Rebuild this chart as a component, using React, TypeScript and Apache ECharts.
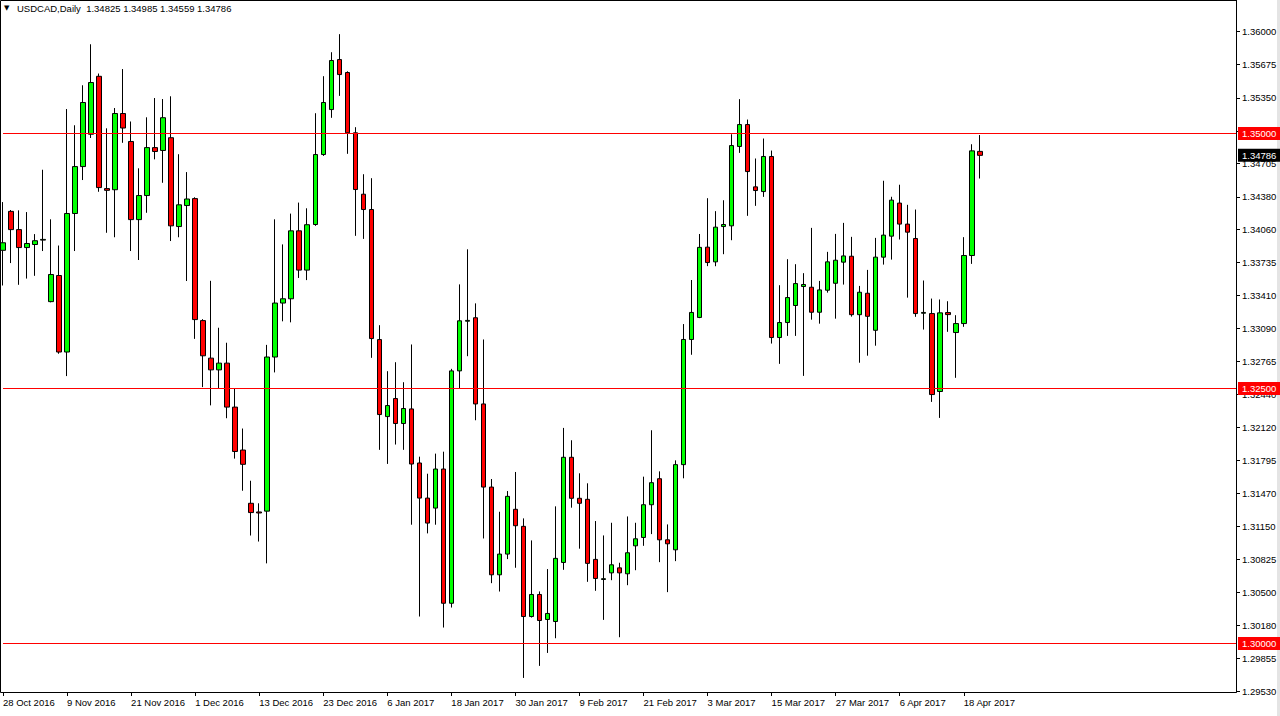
import React, { useEffect, useRef } from "react";
import * as echarts from "echarts";

const FONT = "'Liberation Sans', Arial, sans-serif";

const symbolName = "USDCAD,Daily";

const dates = [
  "28 Oct 2016", "31 Oct 2016", "1 Nov 2016", "2 Nov 2016", "3 Nov 2016", "4 Nov 2016", "7 Nov 2016", "8 Nov 2016",
  "9 Nov 2016", "10 Nov 2016", "11 Nov 2016", "14 Nov 2016", "15 Nov 2016", "16 Nov 2016", "17 Nov 2016", "18 Nov 2016",
  "21 Nov 2016", "22 Nov 2016", "23 Nov 2016", "24 Nov 2016", "25 Nov 2016", "28 Nov 2016", "29 Nov 2016", "30 Nov 2016",
  "1 Dec 2016", "2 Dec 2016", "5 Dec 2016", "6 Dec 2016", "7 Dec 2016", "8 Dec 2016", "9 Dec 2016", "12 Dec 2016",
  "13 Dec 2016", "14 Dec 2016", "15 Dec 2016", "16 Dec 2016", "19 Dec 2016", "20 Dec 2016", "21 Dec 2016", "22 Dec 2016",
  "23 Dec 2016", "27 Dec 2016", "28 Dec 2016", "29 Dec 2016", "30 Dec 2016", "3 Jan 2017", "4 Jan 2017", "5 Jan 2017",
  "6 Jan 2017", "9 Jan 2017", "10 Jan 2017", "11 Jan 2017", "12 Jan 2017", "13 Jan 2017", "16 Jan 2017", "17 Jan 2017",
  "18 Jan 2017", "19 Jan 2017", "20 Jan 2017", "23 Jan 2017", "24 Jan 2017", "25 Jan 2017", "26 Jan 2017", "27 Jan 2017",
  "30 Jan 2017", "31 Jan 2017", "1 Feb 2017", "2 Feb 2017", "3 Feb 2017", "6 Feb 2017", "7 Feb 2017", "8 Feb 2017",
  "9 Feb 2017", "10 Feb 2017", "13 Feb 2017", "14 Feb 2017", "15 Feb 2017", "16 Feb 2017", "17 Feb 2017", "20 Feb 2017",
  "21 Feb 2017", "22 Feb 2017", "23 Feb 2017", "24 Feb 2017", "27 Feb 2017", "28 Feb 2017", "1 Mar 2017", "2 Mar 2017",
  "3 Mar 2017", "6 Mar 2017", "7 Mar 2017", "8 Mar 2017", "9 Mar 2017", "10 Mar 2017", "13 Mar 2017", "14 Mar 2017",
  "15 Mar 2017", "16 Mar 2017", "17 Mar 2017", "20 Mar 2017", "21 Mar 2017", "22 Mar 2017", "23 Mar 2017", "24 Mar 2017",
  "27 Mar 2017", "28 Mar 2017", "29 Mar 2017", "30 Mar 2017", "31 Mar 2017", "3 Apr 2017", "4 Apr 2017", "5 Apr 2017",
  "6 Apr 2017", "7 Apr 2017", "10 Apr 2017", "11 Apr 2017", "12 Apr 2017", "13 Apr 2017", "14 Apr 2017", "17 Apr 2017",
  "18 Apr 2017", "19 Apr 2017", "20 Apr 2017",
];

const opens = [
  1.33855, 1.34237, 1.34058, 1.33882, 1.33912, 1.33955, 1.33352, 1.33608, 1.32858, 1.34216,
  1.34676, 1.34993, 1.35561, 1.3446, 1.34449, 1.35196, 1.34922, 1.34156, 1.34392, 1.34862,
  1.34834, 1.34959, 1.34088, 1.34294, 1.34362, 1.33166, 1.32798, 1.32683, 1.32749, 1.32318,
  1.31897, 1.31375, 1.3129, 1.31298, 1.32809, 1.33338, 1.3338, 1.34046, 1.33661, 1.34108,
  1.34794, 1.35235, 1.35725, 1.35598, 1.35007, 1.34405, 1.34255, 1.3298, 1.32225, 1.32402,
  1.32157, 1.323, 1.3177, 1.31426, 1.31328, 1.31711, 1.30395, 1.32673, 1.3316, 1.33194,
  1.32349, 1.31534, 1.30674, 1.30877, 1.31316, 1.31149, 1.30265, 1.30481, 1.30236, 1.30216,
  1.30795, 1.31826, 1.31424, 1.31414, 1.30825, 1.30628, 1.30693, 1.30742, 1.30684, 1.30958,
  1.3104, 1.31361, 1.31616, 1.31017, 1.30919, 1.31754, 1.32981, 1.33197, 1.33886, 1.33742,
  1.34088, 1.34095, 1.34873, 1.35088, 1.34477, 1.34431, 1.34775, 1.33, 1.33147, 1.33314,
  1.335, 1.33493, 1.33248, 1.33464, 1.33532, 1.33739, 1.33797, 1.33224, 1.33434, 1.33071,
  1.33788, 1.33994, 1.34318, 1.34112, 1.33971, 1.33238, 1.33235, 1.32471, 1.33245, 1.33049,
  1.33137, 1.33804, 1.34825,
];

const highs = [
  1.34328, 1.3425, 1.34247, 1.3423, 1.34014, 1.34645, 1.34159, 1.33902, 1.3524, 1.35081,
  1.35473, 1.35875, 1.35588, 1.35051, 1.3525, 1.35632, 1.35118, 1.34659, 1.35159, 1.35348,
  1.35338, 1.35365, 1.34797, 1.34622, 1.34375, 1.3318, 1.33556, 1.33096, 1.32949, 1.325,
  1.32108, 1.31596, 1.31375, 1.32928, 1.34159, 1.33913, 1.34215, 1.34323, 1.34267, 1.35199,
  1.35562, 1.35797, 1.35974, 1.3561, 1.35062, 1.34601, 1.34562, 1.33121, 1.3267, 1.32758,
  1.32562, 1.32932, 1.31832, 1.31665, 1.31862, 1.31881, 1.32693, 1.33521, 1.33865, 1.33335,
  1.32981, 1.31613, 1.31292, 1.31495, 1.31682, 1.31227, 1.31011, 1.30511, 1.3073, 1.31345,
  1.32114, 1.31993, 1.31669, 1.31571, 1.31201, 1.3106, 1.31184, 1.30792, 1.31246, 1.31184,
  1.31636, 1.32091, 1.31688, 1.31168, 1.31796, 1.33132, 1.33564, 1.34015, 1.34366, 1.34239,
  1.34346, 1.34993, 1.35337, 1.35137, 1.34755, 1.34951, 1.34833, 1.33513, 1.33768, 1.33719,
  1.33631, 1.34075, 1.33555, 1.3384, 1.34016, 1.34124, 1.33987, 1.33506, 1.33663, 1.33977,
  1.34537, 1.3438, 1.34498, 1.34301, 1.34255, 1.33559, 1.33382, 1.33373, 1.33356, 1.33219,
  1.33984, 1.34895, 1.34985,
];

const lows = [
  1.3351, 1.3373, 1.33517, 1.33578, 1.33605, 1.33848, 1.33345, 1.32841, 1.32622, 1.33848,
  1.34544, 1.34956, 1.34429, 1.34027, 1.33983, 1.34909, 1.33848, 1.3376, 1.34223, 1.34747,
  1.34517, 1.33946, 1.33983, 1.33554, 1.32987, 1.32514, 1.32335, 1.325, 1.32209, 1.31813,
  1.31498, 1.31059, 1.31, 1.30786, 1.32658, 1.33159, 1.33149, 1.33584, 1.33563, 1.34095,
  1.34781, 1.35154, 1.35369, 1.34801, 1.33997, 1.33967, 1.32801, 1.31899, 1.31761, 1.31951,
  1.31899, 1.31165, 1.30265, 1.3108, 1.31165, 1.30157, 1.30353, 1.325, 1.32817, 1.32189,
  1.3103, 1.30592, 1.3051, 1.30828, 1.30743, 1.29663, 1.30255, 1.29781, 1.29908, 1.30052,
  1.30723, 1.31332, 1.3093, 1.30605, 1.30517, 1.30232, 1.30621, 1.30062, 1.30572, 1.30719,
  1.30958, 1.31073, 1.30798, 1.30504, 1.30808, 1.3162, 1.32831, 1.3319, 1.337, 1.33699,
  1.33817, 1.33954, 1.3481, 1.34193, 1.34291, 1.34379, 1.32941, 1.32742, 1.33016, 1.33016,
  1.32624, 1.33175, 1.33136, 1.3344, 1.33185, 1.33519, 1.33205, 1.32753, 1.32822, 1.3292,
  1.33715, 1.33764, 1.33961, 1.33391, 1.33203, 1.33078, 1.32369, 1.32212, 1.33056, 1.32605,
  1.33105, 1.33722, 1.34559,
];

const closes = [
  1.33929, 1.34058, 1.33882, 1.33922, 1.33949, 1.33962, 1.33618, 1.32858, 1.34216, 1.34676,
  1.35304, 1.355, 1.3447, 1.34443, 1.35196, 1.35054, 1.34156, 1.34392, 1.34862, 1.34824,
  1.35155, 1.34095, 1.34301, 1.34358, 1.33176, 1.32821, 1.32683, 1.32749, 1.32318, 1.31883,
  1.31757, 1.31284, 1.3128, 1.32809, 1.33338, 1.3338, 1.34046, 1.33661, 1.34106, 1.34794,
  1.35304, 1.35716, 1.35578, 1.35007, 1.34451, 1.34255, 1.3299, 1.32245, 1.32333, 1.32157,
  1.32304, 1.3176, 1.31426, 1.31181, 1.31711, 1.30395, 1.32673, 1.33164, 1.33168, 1.32349,
  1.31534, 1.30674, 1.30877, 1.31443, 1.31155, 1.30265, 1.30481, 1.30226, 1.30295, 1.30835,
  1.31826, 1.31424, 1.31375, 1.30786, 1.30638, 1.30636, 1.30772, 1.30693, 1.3089, 1.31027,
  1.31361, 1.31577, 1.31017, 1.30978, 1.31754, 1.32981, 1.33246, 1.33884, 1.33735, 1.34082,
  1.34108, 1.34882, 1.35088, 1.34627, 1.34441, 1.34775, 1.33, 1.33147, 1.33392, 1.33529,
  1.3352, 1.33248, 1.33467, 1.33742, 1.33758, 1.338, 1.33224, 1.33444, 1.33208, 1.33788,
  1.34004, 1.34347, 1.34112, 1.34033, 1.33235, 1.33246, 1.32441, 1.33242, 1.33225, 1.33137,
  1.33804, 1.3483, 1.34786,
];

// horizontal levels drawn on the chart
const levels = [1.35, 1.325, 1.3];

// price scale ticks on the right axis (1.35025 is hidden under the 1.35000 level label)
const tickValues = [
  1.36, 1.35675, 1.3535, 1.35025, 1.34705, 1.3438, 1.3406, 1.33735, 1.3341, 1.3309, 1.32765,
  1.3244, 1.3212, 1.31795, 1.3147, 1.3115, 1.30825, 1.305, 1.3018, 1.29855, 1.2953,
];
const labelValues = [
  1.36, 1.35675, 1.3535, 1.34705, 1.3438, 1.3406, 1.33735, 1.3341, 1.3309, 1.32765,
  1.3244, 1.3212, 1.31795, 1.3147, 1.3115, 1.30825, 1.305, 1.3018, 1.29855, 1.2953,
];

const yMin = 1.29525;
const yMax = 1.36309;
const emptySlots = 32;

const categories = [...dates, ...Array(emptySlots).fill("")];
const candleData = dates.map((_, i) => [opens[i], closes[i], lows[i], highs[i]]);
const last = dates.length - 1;
const labelEvery = (i: number) => i % 8 === 0 && i < dates.length;

const headerText =
  symbolName +
  "  " +
  [opens[last], highs[last], lows[last], closes[last]].map((v) => v.toFixed(5)).join(" ");

const baseLabel = {
  show: true,
  position: "end",
  distance: 2,
  formatter: (p: any) => Number(p.value).toFixed(5),
  color: "#ffffff",
  fontSize: 9.5,
  fontFamily: FONT,
  padding: [2, 4, 1, 4],
};

export default function App() {
  const ref = useRef<HTMLDivElement>(null);
  useEffect(() => {
    const chart = echarts.init(ref.current!, null, { renderer: "svg" });
    const option: any = {
      animation: false,
      backgroundColor: "#ffffff",
      grid: { left: 2.5, right: 44, top: 0, bottom: 24, containLabel: false },
      xAxis: {
        type: "category",
        data: categories,
        boundaryGap: false,
        axisLine: { show: false },
        axisTick: {
          show: true,
          interval: (i: number) => labelEvery(i),
          length: 4,
          lineStyle: { color: "#000", width: 1 },
        },
        axisLabel: {
          interval: 7,
          align: "left",
          margin: 5,
          color: "#000",
          fontSize: 9.5,
          fontFamily: FONT,
          hideOverlap: false,
          formatter: (v: string) => v,
        },
        splitLine: { show: false },
      },
      yAxis: {
        type: "value",
        position: "right",
        min: yMin,
        max: yMax,
        axisLine: { show: true, lineStyle: { color: "#000", width: 1 } },
        axisTick: {
          show: true,
          length: 4,
          customValues: tickValues,
          lineStyle: { color: "#000" },
        },
        axisLabel: {
          customValues: labelValues,
          margin: 6,
          color: "#000",
          fontSize: 9.5,
          fontFamily: FONT,
          formatter: (v: number) => v.toFixed(5),
        },
        splitLine: { show: false },
      },
      series: [
        {
          type: "candlestick",
          data: candleData,
          barWidth: 5,
          itemStyle: {
            color: "#00ff00",
            color0: "#ff0000",
            borderColor: "#000000",
            borderColor0: "#000000",
            borderWidth: 1,
          },
        },
        {
          type: "line",
          data: [],
          silent: true,
          markLine: {
            silent: true,
            symbol: "none",
            precision: 5,
            animation: false,
            lineStyle: { color: "#ff0000", type: "solid", width: 1, opacity: 1 },
            label: { ...baseLabel, backgroundColor: "#ff0000" },
            data: levels.map((v) => ({
              yAxis: v,
              lineStyle: { color: "#ff0000", type: "solid", width: 1, opacity: 1 },
            })),
          },
        },
        {
          type: "line",
          data: [],
          silent: true,
          markLine: {
            silent: true,
            symbol: "none",
            precision: 5,
            animation: false,
            lineStyle: { color: "rgba(0,0,0,0)", width: 1 },
            label: { ...baseLabel, backgroundColor: "#000000" },
            data: [{ yAxis: closes[last] }],
          },
        },
      ],
      graphic: [
        {
          type: "rect",
          silent: true,
          z: 50,
          shape: { x: 0.5, y: 0.5, width: 1236, height: 692 },
          style: { fill: "none", stroke: "#000", lineWidth: 1 },
        },
        {
          type: "rect",
          silent: true,
          shape: { x: 1277, y: 0, width: 3, height: 716 },
          style: { fill: "#e4e4e4" },
        },
        {
          type: "text",
          silent: true,
          z: 60,
          x: 4,
          y: 4,
          style: { text: "▼", fontSize: 7, fontFamily: "'DejaVu Sans', sans-serif", fill: "#000" },
        },
        {
          type: "text",
          silent: true,
          z: 60,
          x: 17,
          y: 3,
          style: { text: headerText, fontSize: 9.5, fontFamily: FONT, fill: "#000" },
        },
      ],
    };
    chart.setOption(option);
    return () => chart.dispose();
  }, []);
  return (
    <div
      ref={ref}
      style={{ position: "absolute", left: 0, top: 0, width: 1280, height: 716, background: "#fff" }}
    />
  );
}
